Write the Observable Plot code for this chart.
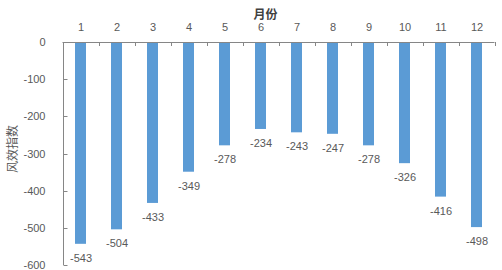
<!DOCTYPE html>
<html>
<head>
<meta charset="utf-8">
<script src="https://cdn.jsdelivr.net/npm/d3@7"></script>
<script src="https://cdn.jsdelivr.net/npm/@observablehq/plot@0.6"></script>
<style>
  html, body { margin: 0; padding: 0; background: #fff; }
  #chart svg { display: block; }
</style>
</head>
<body>
<div id="chart"></div>
<script>
const months = ["1","2","3","4","5","6","7","8","9","10","11","12"];
const values = [-543, -504, -433, -349, -278, -234, -243, -247, -278, -326, -416, -498];
const yTicks = [0, -100, -200, -300, -400, -500, -600];
const xTitle = "月份";
const yTitle = "风效指数";

const data = months.map((m, i) => ({month: m, value: values[i]}));
const axisColor = "#868686";
const textColor = "#595959";
const font = "'Liberation Sans', Arial, 'Noto Sans CJK SC', sans-serif";

function axisLines(index, scales) {
  const {x, y} = scales;
  const g = d3.create("svg:g").attr("stroke", axisColor).attr("stroke-width", 1).attr("fill", "none");
  const step = x(months[1]) - x(months[0]);
  const bw = x.bandwidth ? x.bandwidth() : 0;
  const left = x(months[0]) + bw / 2 - step / 2;
  const right = x(months[months.length - 1]) + bw / 2 + step / 2;
  const y0 = y(0);
  g.append("line").attr("x1", left).attr("x2", right).attr("y1", y0 + 0.5).attr("y2", y0 + 0.5);
  for (let k = 0; k <= months.length; k++) {
    const xx = Math.round(left + k * step) + 0.5;
    g.append("line").attr("x1", xx).attr("x2", xx).attr("y1", y0).attr("y2", y0 + 4);
  }
  const lx = Math.round(left) + 0.5;
  g.append("line").attr("x1", lx).attr("x2", lx).attr("y1", y(0)).attr("y2", y(-600));
  for (const t of yTicks) {
    const yy = Math.round(y(t)) + 0.5;
    g.append("line").attr("x1", lx).attr("x2", lx + 4).attr("y1", yy).attr("y2", yy);
  }
  return g.node();
}

const chart = Plot.plot({
  width: 502,
  height: 270,
  marginTop: 42,
  marginLeft: 58,
  marginRight: 4,
  marginBottom: 5,
  style: {fontFamily: font, fontSize: "11px", color: textColor, background: "#fff"},
  x: {domain: months, paddingInner: 0.7, paddingOuter: 0.35, axis: null},
  y: {domain: [-600, 0], axis: null},
  marks: [
    Plot.barY(data, {x: "month", y: "value", fill: "#5b9bd5"}),
    Plot.axisX({anchor: "top", tickSize: 0, tickPadding: 12, label: null, fontSize: 11, fill: textColor}),
    Plot.axisY({anchor: "left", ticks: yTicks, tickSize: 0, tickPadding: 13, label: null,
      tickFormat: d => String(d), fontSize: 11, fill: textColor}),
    axisLines,
    Plot.text(data, {x: "month", y: "value", text: d => String(d.value), dy: 14, fill: textColor, fontSize: 11}),
    Plot.text([xTitle], {frameAnchor: "top", dx: -13, dy: -32, fontWeight: "bold", fontSize: 12, fill: "#404040"}),
    Plot.text([yTitle], {frameAnchor: "left", textAnchor: "middle", dx: -45, dy: -5, rotate: -90, fontSize: 12, fill: textColor})
  ]
});
document.getElementById("chart").appendChild(chart);
</script>
</body>
</html>
